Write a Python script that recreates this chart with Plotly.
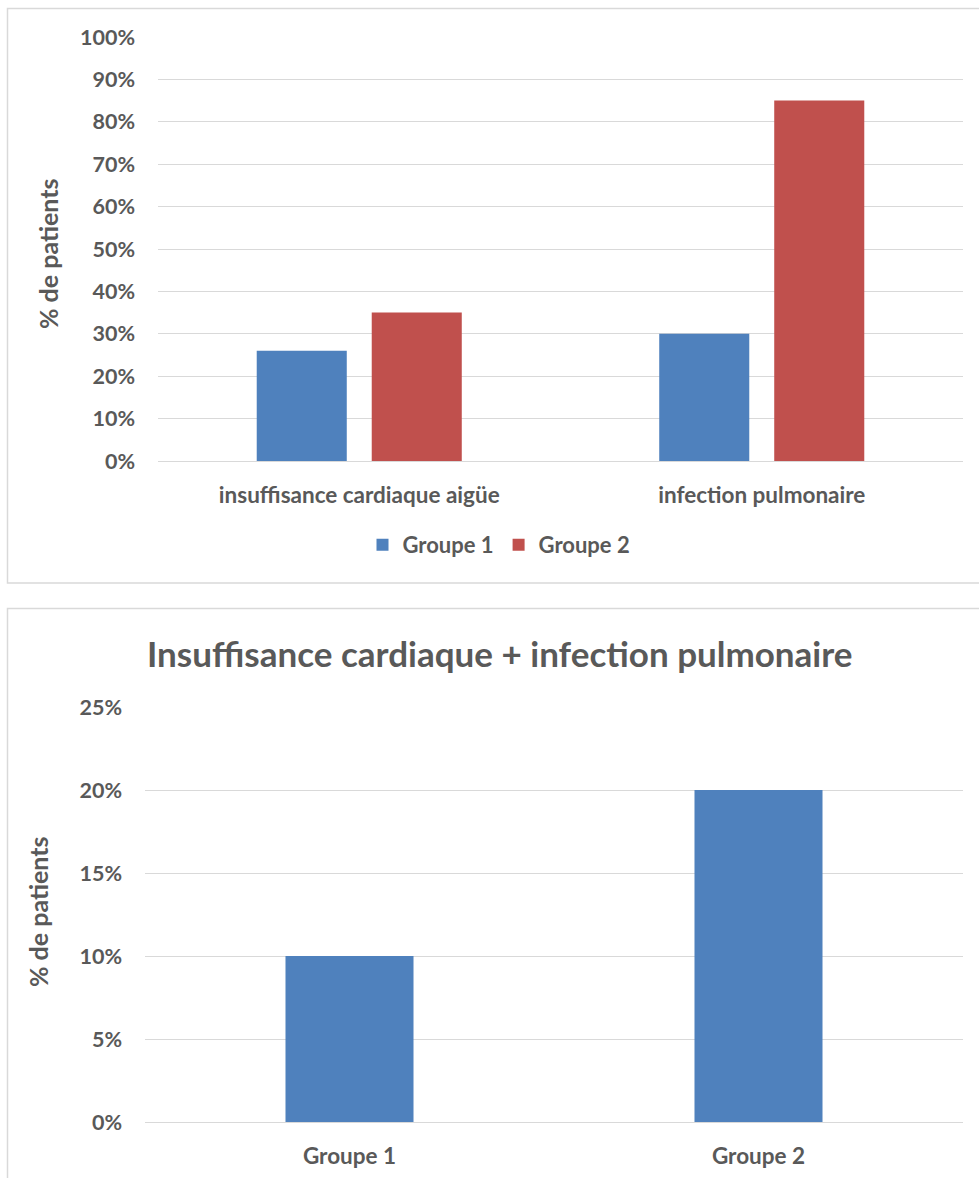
import plotly.graph_objects as go

# Data
categories = ["insuffisance cardiaque aigüe", "infection pulmonaire"]
groupe1 = [0.26, 0.30]
groupe2 = [0.35, 0.85]

combo_groups = ["Groupe 1", "Groupe 2"]
combo_values = [0.10, 0.20]

W, H = 979, 1178
BLUE = "#4F81BD"
RED = "#C0504D"
GRID = "#D9D9D9"
TXT = "#595959"
FONT = "Lato, 'Open Sans', sans-serif"


def px_x(x):
    return x / W


def px_y(y):
    return 1 - y / H


fig = go.Figure()

fig.add_trace(go.Bar(x=categories, y=groupe1, name="Groupe 1",
                     marker=dict(color=BLUE, line=dict(width=0)),
                     xaxis="x", yaxis="y"))
fig.add_trace(go.Bar(x=categories, y=groupe2, name="Groupe 2",
                     marker=dict(color=RED, line=dict(width=0)),
                     xaxis="x", yaxis="y"))
fig.add_trace(go.Bar(x=combo_groups, y=combo_values, name="combo",
                     marker=dict(color=BLUE, line=dict(width=0)),
                     width=0.313, showlegend=False,
                     xaxis="x2", yaxis="y2"))

ytickfont = dict(family=FONT, size=21.5, color=TXT, weight="bold")
xtickfont = dict(family=FONT, size=22.5, color=TXT, weight="bold")

common_y = dict(showgrid=True, gridcolor=GRID, gridwidth=1,
                zeroline=True, zerolinecolor=GRID, zerolinewidth=1,
                showline=False, ticks="", tickformat=".0%",
                tickfont=ytickfont, ticklabelstandoff=22,
                automargin=False, fixedrange=True)
common_x = dict(showgrid=False, showline=False, ticks="",
                tickfont=xtickfont, ticklabelstandoff=18,
                automargin=False, fixedrange=True)

fig.update_layout(
    width=W, height=H,
    autosize=False,
    margin=dict(l=0, r=0, t=0, b=0, pad=0),
    paper_bgcolor="white", plot_bgcolor="white",
    barmode="group", bargap=0.4286, bargroupgap=0.217,
    font=dict(family=FONT, color=TXT),
    xaxis=dict(domain=[px_x(158), px_x(963)], anchor="y", **common_x),
    yaxis=dict(domain=[px_y(461), px_y(37)], anchor="x",
               range=[0, 1], dtick=0.1, **common_y),
    xaxis2=dict(domain=[px_x(145), px_x(963)], anchor="y2", **common_x),
    yaxis2=dict(domain=[px_y(1122), px_y(707)], anchor="x2",
                range=[0, 0.25], dtick=0.05, **common_y),
    legend=dict(orientation="h", x=px_x(499), y=px_y(545),
                xanchor="center", yanchor="middle",
                font=dict(family=FONT, size=22, color=TXT, weight="bold"),
                bgcolor="rgba(0,0,0,0)", traceorder="normal",
                itemwidth=30),
    showlegend=True,
    shapes=[
        dict(type="rect", xref="paper", yref="paper",
             x0=px_x(7.5), x1=1.05, y0=px_y(583), y1=px_y(8.5),
             line=dict(color=GRID, width=1.5), fillcolor="rgba(0,0,0,0)",
             layer="below"),
        dict(type="rect", xref="paper", yref="paper",
             x0=px_x(7.5), x1=1.05, y0=-0.05, y1=px_y(608.5),
             line=dict(color=GRID, width=1.5), fillcolor="rgba(0,0,0,0)",
             layer="below"),
    ],
    annotations=[
        dict(text="% de patients", xref="paper", yref="paper",
             x=px_x(48), y=px_y(254), textangle=-90, showarrow=False,
             xanchor="center", yanchor="middle",
             font=dict(family=FONT, size=25, color=TXT, weight="bold")),
        dict(text="% de patients", xref="paper", yref="paper",
             x=px_x(38), y=px_y(912), textangle=-90, showarrow=False,
             xanchor="center", yanchor="middle",
             font=dict(family=FONT, size=25, color=TXT, weight="bold")),
        dict(text="Insuffisance cardiaque + infection pulmonaire",
             xref="paper", yref="paper", x=px_x(500), y=px_y(653),
             showarrow=False, xanchor="center", yanchor="middle",
             font=dict(family=FONT, size=35, color=TXT, weight="bold")),
    ],
)

fig.write_html("out.html")
